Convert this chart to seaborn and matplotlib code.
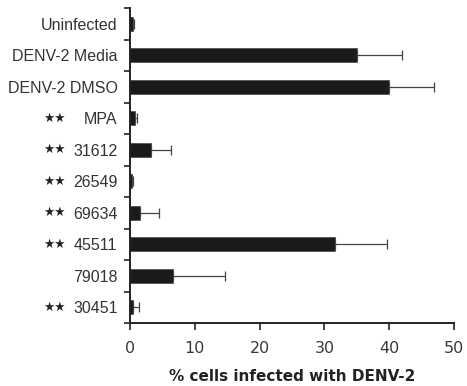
import matplotlib
matplotlib.use("Agg")
import matplotlib.pyplot as plt
import seaborn as sns
import numpy as np
import pandas as pd

categories = ["Uninfected", "DENV-2 Media", "DENV-2 DMSO", "MPA", "31612",
              "26549", "69634", "45511", "79018", "30451"]
values = [0.4, 35.0, 40.0, 0.7, 3.2, 0.25, 1.5, 31.6, 6.7, 0.5]
errors = [0.2, 6.9, 6.9, 0.35, 3.2, 0.2, 3.0, 8.0, 8.0, 0.95]
significant = [False, False, False, True, True, True, True, True, False, True]
xticks = [0, 10, 20, 30, 40, 50]
xlabel = "% cells infected with DENV-2"

df = pd.DataFrame({"cat": categories, "val": values})

sns.set_style("ticks")
fig = plt.figure(figsize=(4.67, 3.86), dpi=100)
ax = fig.add_axes([130/467, 1-323/386, 324/467, 315/386])

sns.barplot(data=df, y="cat", x="val", orient="h", color="#1a1a1a",
            width=0.43, edgecolor="#555555", linewidth=0.6, ax=ax, saturation=1)

ypos = np.arange(len(categories))
ax.errorbar(values, ypos, xerr=[np.zeros(len(errors)), errors], fmt="none",
            ecolor="#444444", elinewidth=0.9, capsize=3.5, capthick=0.9, zorder=3)

ax.set_xlim(0, 50)
ax.set_ylim(9.5, -0.5)
ax.set_xticks(xticks)
ax.set_xticklabels([str(t) for t in xticks], fontsize=11.5, color="#3a3a3a",
                   family="DejaVu Sans")
ax.set_yticks(ypos)
ax.set_yticklabels(categories, fontsize=11.5, color="#333333", family="Liberation Sans")
ax.set_yticks(np.arange(-0.5, 10, 1), minor=True)
ax.tick_params(axis="y", which="major", length=0, pad=9)
ax.tick_params(axis="y", which="minor", length=4, width=1.2, direction="out", color="#222222")
ax.tick_params(axis="x", which="major", length=5, width=1.2, direction="out", color="#222222", pad=8)
ax.set_ylabel("")
ax.set_xlabel(xlabel, fontsize=11, fontweight="bold", color="#222222",
              family="DejaVu Sans", labelpad=9)

for s in ["top", "right"]:
    ax.spines[s].set_visible(False)
for s in ["left", "bottom"]:
    ax.spines[s].set_linewidth(1.4)
    ax.spines[s].set_color("#222222")

tr = ax.get_yaxis_transform()
for i, sig in enumerate(significant):
    if sig:
        ax.text(-0.232, i, "★★", transform=tr, ha="center", va="center",
                fontsize=9, color="#222222", family="DejaVu Sans")

fig.savefig("out.png", dpi=100)
